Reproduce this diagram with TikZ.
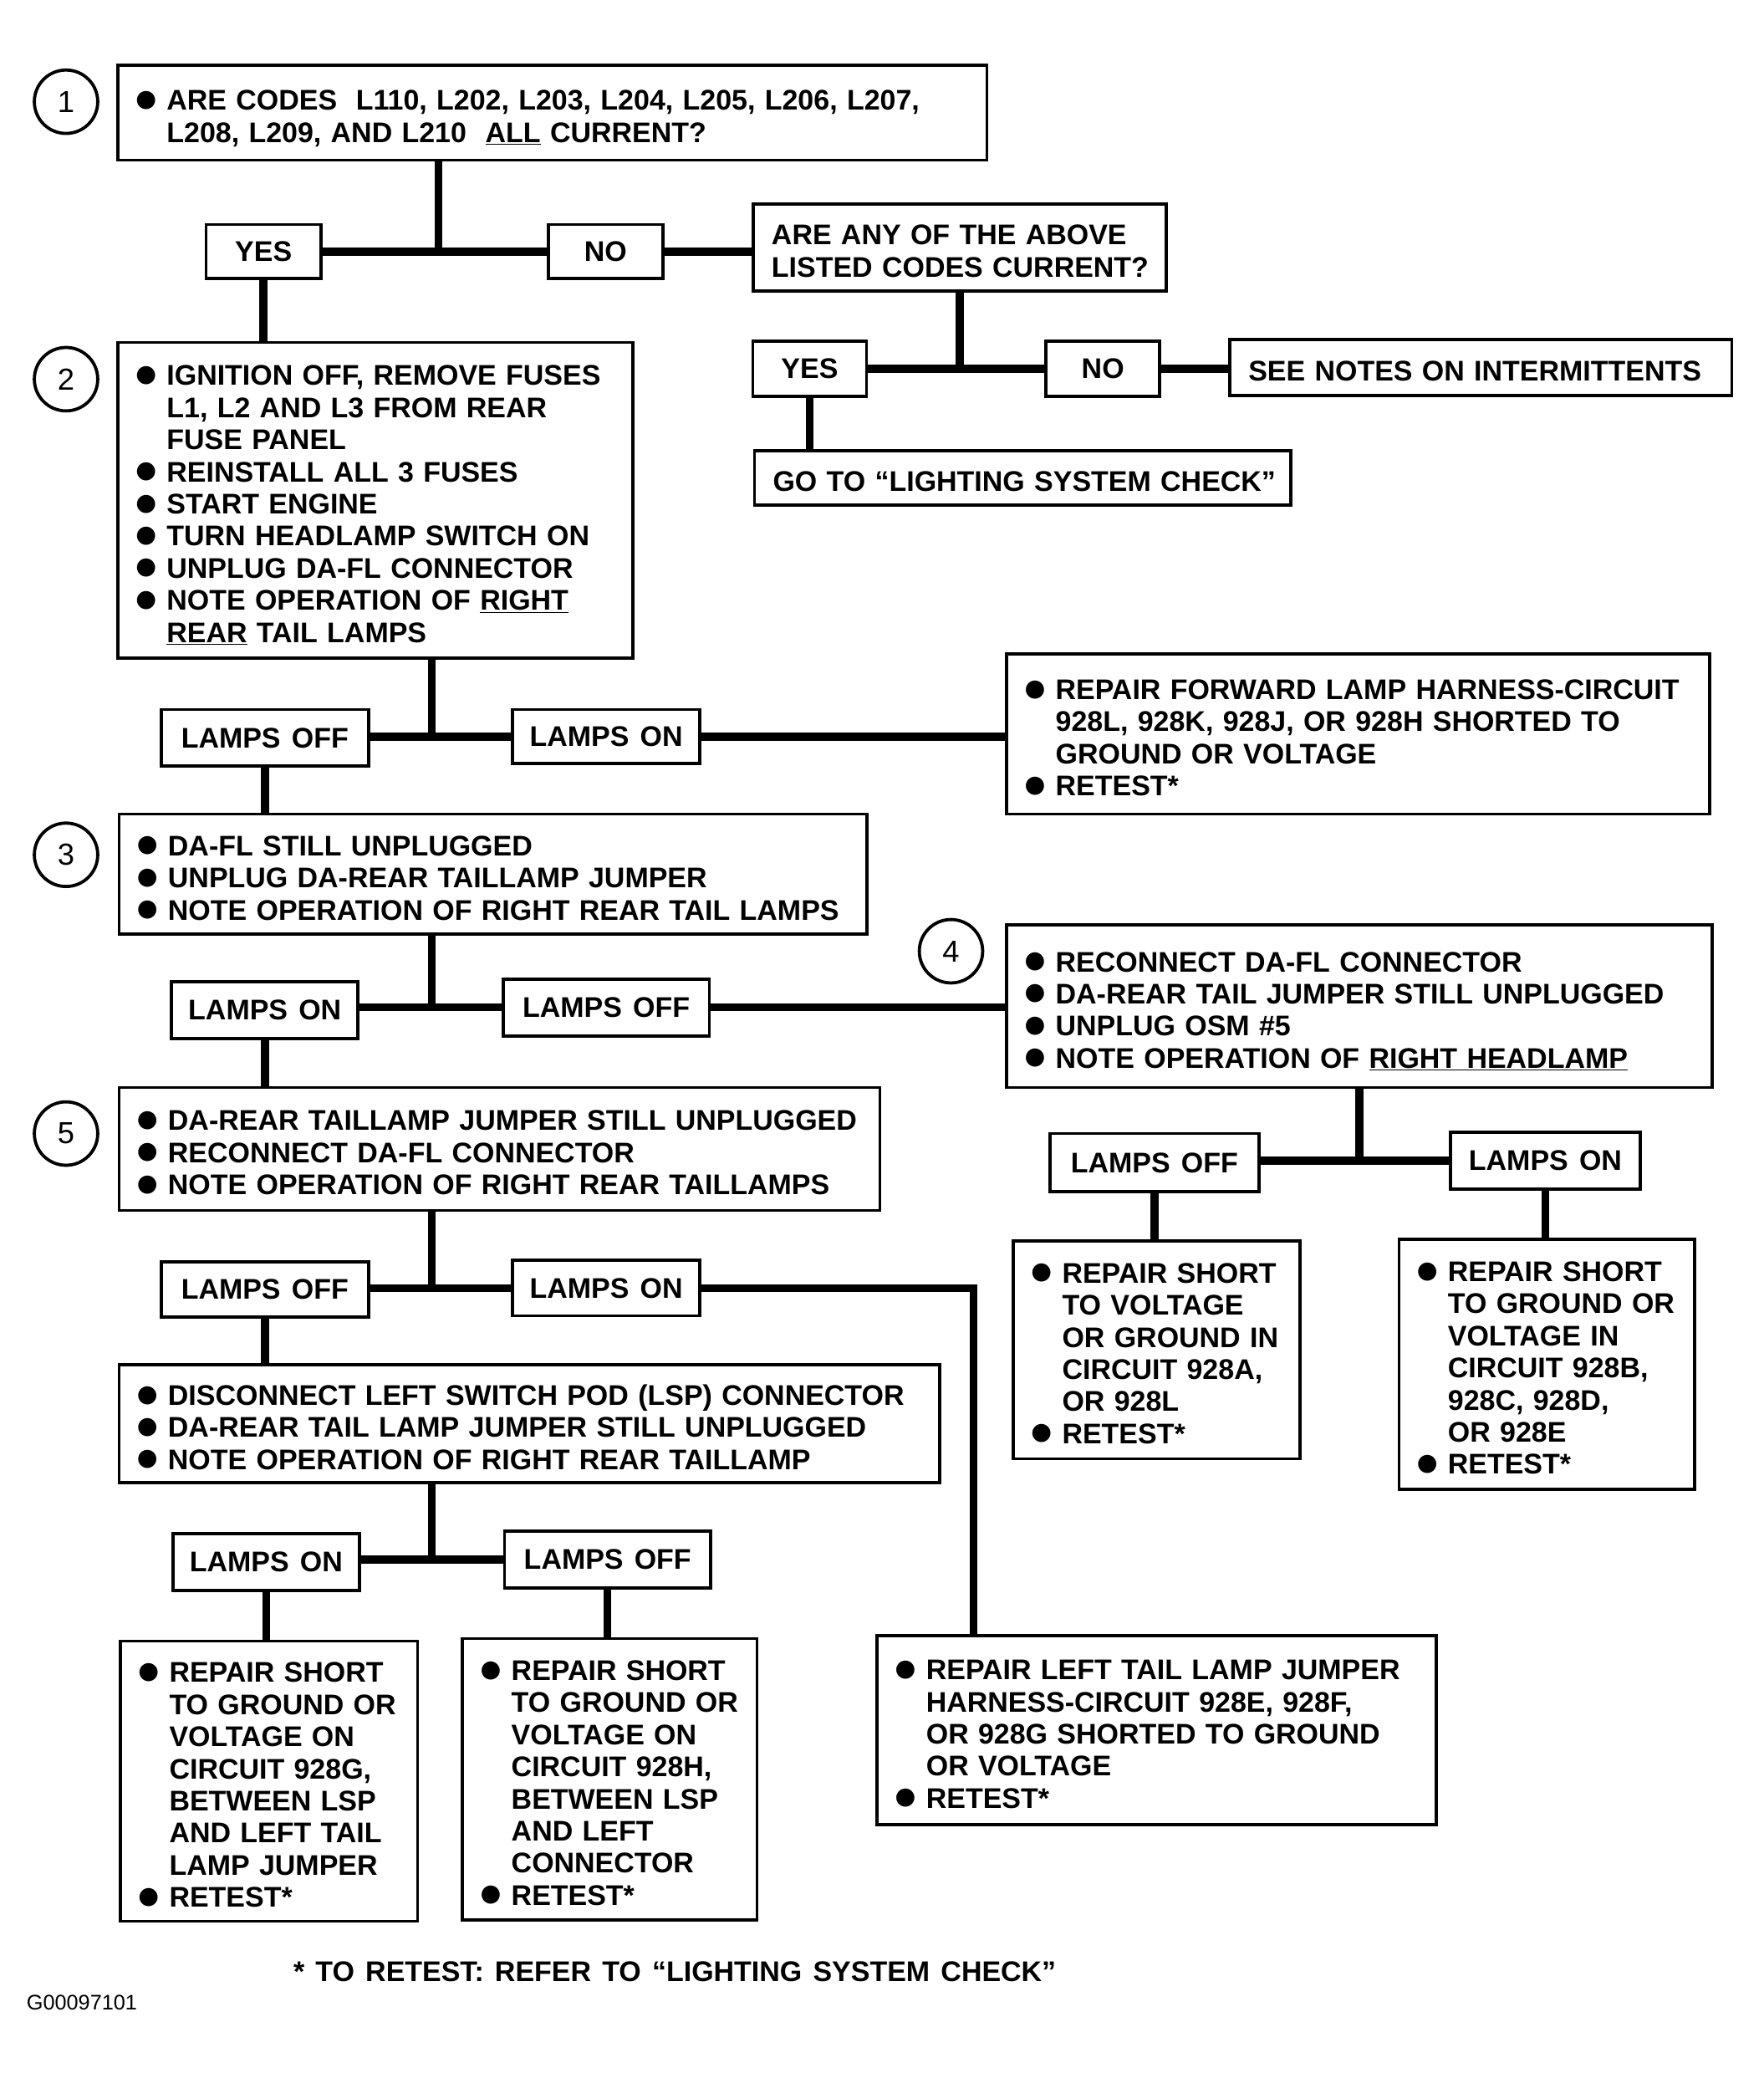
\documentclass[tikz,border=0pt]{standalone}
\usepackage{fontspec}
\setmainfont{Liberation Sans}[WordSpace=1.4]
\newfontfamily\dejavu{DejaVu Sans}
\newcommand\bul{\raisebox{2.8pt}{\fontsize{18}{18}\selectfont\dejavu ●}}
\newcommand\bl[1]{\mbox{\hspace*{-0.5pt}\makebox[23.5pt][l]{\bul}#1}}
\newcommand\cl[1]{\mbox{\hspace*{23pt}#1}}
\newcommand\pl[1]{\mbox{#1}}
\newcommand\bx[6]{%
  \pgfmathsetmacro\bw{#4-#2}\pgfmathsetmacro\bh{#5-#3}\pgfmathsetmacro\tw{#4-#2-28}%
  \node[box, minimum width=\bw pt, minimum height=\bh pt, text width=\tw pt, anchor=north west] (#1) at (#2,#3)
    {\rule{0pt}{25.5pt}#6\rule[-5pt]{0pt}{5pt}};}
\newcommand\lb[6]{%
  \pgfmathsetmacro\bw{#4-#2}\pgfmathsetmacro\bh{#5-#3}%
  \node[lab, minimum width=\bw pt, minimum height=\bh pt] (#1) at ({(#2+#4)/2},{(#3+#5)/2}) {#6};}
\begin{document}
\begin{tikzpicture}[x=1pt,y=-1pt,
  box/.style={draw, line width=2.4pt, inner xsep=14pt, inner ysep=0pt, align=left,
    font=\fontsize{21.5}{24.3}\selectfont\bfseries},
  lab/.style={draw, line width=2.4pt, inner sep=0pt, align=center,
    font=\fontsize{21.5}{24.3}\selectfont\bfseries},
  circ/.style={draw, circle, line width=2.4pt, minimum size=48pt, inner sep=0pt,
    font=\fontsize{23}{23}\selectfont},
  conn/.style={line width=6pt, line join=miter}]
\useasboundingbox[fill=white] (0,0) rectangle (1335.5,1569.1);

% circles
\node[circ] (c1) at (50,77) {1};
\node[circ] (c2) at (50,287) {2};
\node[circ] (c3) at (50,647) {3};
\node[circ] (c4) at (720,720) {4};
\node[circ] (c5) at (50,858) {5};

% main boxes
\bx{b1}{88}{48}{746}{120}{\bl{ARE CODES\ \ L110, L202, L203, L204, L205, L206, L207,}\\
  \cl{L208, L209, AND L210\ \ \underline{ALL} CURRENT?}}
\bx{q2}{569}{153}{882}{219}{\pl{ARE ANY OF THE ABOVE}\\\pl{LISTED CODES CURRENT?}}
\bx{notes}{930}{256}{1310}{298}{\pl{SEE NOTES ON INTERMITTENTS}}
\bx{goto}{570}{340}{976}{381}{\pl{GO TO “LIGHTING SYSTEM CHECK”}}
\bx{b2}{88}{258}{478}{497}{\bl{IGNITION OFF, REMOVE FUSES}\\
  \cl{L1, L2 AND L3 FROM REAR}\\
  \cl{FUSE PANEL}\\
  \bl{REINSTALL ALL 3 FUSES}\\
  \bl{START ENGINE}\\
  \bl{TURN HEADLAMP SWITCH ON}\\
  \bl{UNPLUG DA-FL CONNECTOR}\\
  \bl{NOTE OPERATION OF \underline{RIGHT}}\\
  \cl{\underline{REAR} TAIL LAMPS}}
\bx{rf}{761}{494}{1293}{615}{\bl{REPAIR FORWARD LAMP HARNESS-CIRCUIT}\\
  \cl{928L, 928K, 928J, OR 928H SHORTED TO}\\
  \cl{GROUND OR VOLTAGE}\\
  \bl{RETEST*}}
\bx{b3}{89}{615}{655}{706}{\bl{DA-FL STILL UNPLUGGED}\\
  \bl{UNPLUG DA-REAR TAILLAMP JUMPER}\\
  \bl{NOTE OPERATION OF RIGHT REAR TAIL LAMPS}}
\bx{b4}{761}{699}{1295}{822}{\bl{RECONNECT DA-FL CONNECTOR}\\
  \bl{DA-REAR TAIL JUMPER STILL UNPLUGGED}\\
  \bl{UNPLUG OSM \#5}\\
  \bl{NOTE OPERATION OF \underline{RIGHT HEADLAMP}}}
\bx{ra}{766}{938}{983}{1103}{\bl{REPAIR SHORT}\\
  \cl{TO VOLTAGE}\\
  \cl{OR GROUND IN}\\
  \cl{CIRCUIT 928A,}\\
  \cl{OR 928L}\\
  \bl{RETEST*}}
\bx{rb}{1058}{937}{1282}{1126}{\bl{REPAIR SHORT}\\
  \cl{TO GROUND OR}\\
  \cl{VOLTAGE IN}\\
  \cl{CIRCUIT 928B,}\\
  \cl{928C, 928D,}\\
  \cl{OR 928E}\\
  \bl{RETEST*}}
\bx{b5}{89}{822}{665}{915}{\bl{DA-REAR TAILLAMP JUMPER STILL UNPLUGGED}\\
  \bl{RECONNECT DA-FL CONNECTOR}\\
  \bl{NOTE OPERATION OF RIGHT REAR TAILLAMPS}}
\bx{b6}{89}{1032}{710}{1121}{\bl{DISCONNECT LEFT SWITCH POD (LSP) CONNECTOR}\\
  \bl{DA-REAR TAIL LAMP JUMPER STILL UNPLUGGED}\\
  \bl{NOTE OPERATION OF RIGHT REAR TAILLAMP}}
\bx{rg}{90}{1241}{315}{1453}{\bl{REPAIR SHORT}\\
  \cl{TO GROUND OR}\\
  \cl{VOLTAGE ON}\\
  \cl{CIRCUIT 928G,}\\
  \cl{BETWEEN LSP}\\
  \cl{AND LEFT TAIL}\\
  \cl{LAMP JUMPER}\\
  \bl{RETEST*}}
\bx{rh}{349}{1239}{572}{1452}{\bl{REPAIR SHORT}\\
  \cl{TO GROUND OR}\\
  \cl{VOLTAGE ON}\\
  \cl{CIRCUIT 928H,}\\
  \cl{BETWEEN LSP}\\
  \cl{AND LEFT}\\
  \cl{CONNECTOR}\\
  \bl{RETEST*}}
\bx{lt}{663}{1237}{1086}{1380}{\bl{REPAIR LEFT TAIL LAMP JUMPER}\\
  \cl{HARNESS-CIRCUIT 928E, 928F,}\\
  \cl{OR 928G SHORTED TO GROUND}\\
  \cl{OR VOLTAGE}\\
  \bl{RETEST*}}

% label boxes
\lb{yes}{156}{170}{243}{211}{YES}
\lb{no}{415}{170}{502}{211}{NO}
\lb{yes2}{570}{258}{656}{300}{YES}
\lb{no2}{792}{258}{878}{300}{NO}
\lb{la}{122}{537}{279}{580}{LAMPS OFF}
\lb{lb}{388}{537}{530}{578}{LAMPS ON}
\lb{lc}{130}{743}{271}{786}{LAMPS ON}
\lb{ld}{381}{741}{537}{784}{LAMPS OFF}
\lb{le}{795}{858}{953}{902}{LAMPS OFF}
\lb{lf}{1098}{857}{1242}{900}{LAMPS ON}
\lb{lg}{122}{955}{279}{997}{LAMPS OFF}
\lb{lh}{388}{954}{530}{996}{LAMPS ON}
\lb{li}{131}{1161}{272}{1204}{LAMPS ON}
\lb{lj}{382}{1159}{538}{1202}{LAMPS OFF}

% junction columns
\coordinate (j1) at (332,0);
\coordinate (j3) at (327,0);
\coordinate (k) at (737,971);

% connectors
\draw[conn] (j1 |- b1.south) -- (j1 |- yes.east);
\draw[conn] (yes.east) -- (yes.east -| no.west);
\draw[conn] (no.east) -- (no.east -| q2.west);
\draw[conn] (yes.south) -- (yes.south |- b2.north);
\draw[conn] (q2.south) -- (q2.south |- yes2.east);
\draw[conn] (yes2.east) -- (yes2.east -| no2.west);
\draw[conn] (no2.east) -- (no2.east -| notes.west);
\draw[conn] (yes2.south) -- (yes2.south |- goto.north);

\draw[conn] (j3 |- b2.south) -- (j3 |- lb.west);
\draw[conn] (la.east |- lb.west) -- (lb.west);
\draw[conn] (lb.east) -- (lb.east -| rf.west);
\draw[conn] (la.south) -- (la.south |- b3.north);

\draw[conn] (j3 |- b3.south) -- (j3 |- ld.west);
\draw[conn] (lc.east |- ld.west) -- (ld.west);
\draw[conn] (ld.east) -- (ld.east -| b4.west);
\draw[conn] (lc.south) -- (lc.south |- b5.north);

\draw[conn] (b4.south) -- (b4.south |- lf.west);
\draw[conn] (le.east |- lf.west) -- (lf.west);
\draw[conn] (le.south) -- (le.south |- ra.north);
\draw[conn] (lf.south) -- (lf.south |- rb.north);

\draw[conn] (j3 |- b5.south) -- (j3 |- lh.west);
\draw[conn] (lg.east |- lh.west) -- (lh.west);
\draw[conn] (lh.east) -- (lh.east -| k) -- (k |- lt.north);
\draw[conn] (lg.south) -- (lg.south |- b6.north);

\draw[conn] (j3 |- b6.south) -- (j3 |- lj.west);
\draw[conn] (li.east |- lj.west) -- (lj.west);
\draw[conn] (li.south) -- (li.south |- rg.north);
\draw[conn] (lj.south) -- (lj.south |- rh.north);

% notes
\node[anchor=base west, inner sep=0pt, font=\fontsize{21.5}{24.3}\selectfont\bfseries] (fn) at (222,1500)
  {* TO RETEST: REFER TO “LIGHTING SYSTEM CHECK”};
\node[anchor=base west, inner sep=0pt, font=\fontsize{16}{16}\selectfont] (code) at (20,1521) {G00097101};
\end{tikzpicture}
\end{document}
